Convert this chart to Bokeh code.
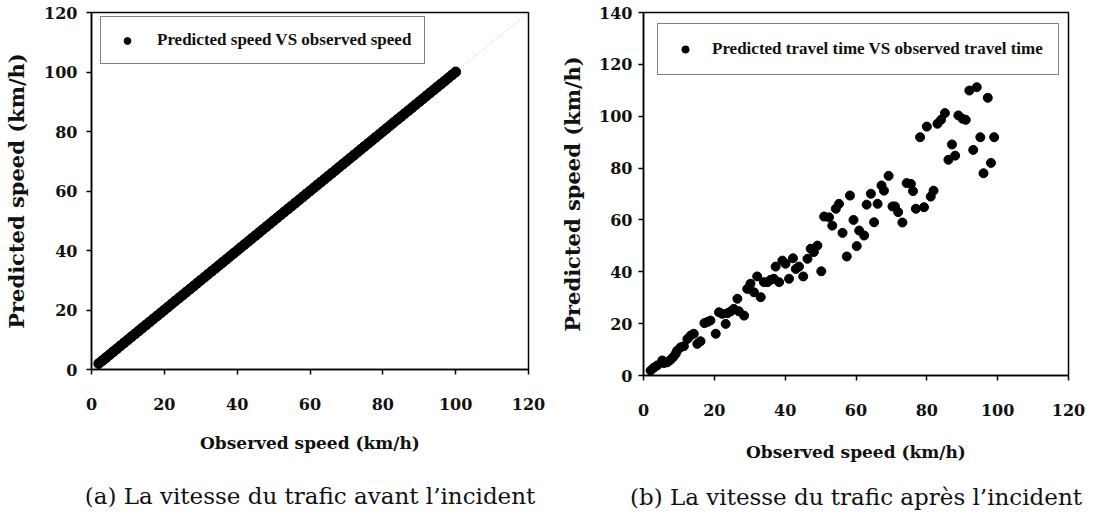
from bokeh.plotting import figure
from bokeh.layouts import row, column
from bokeh.models import (Legend, LegendItem, FixedTicker, Range1d, ColumnDataSource,
                          LinearAxis)
from bokeh.embed import file_html
from bokeh.resources import INLINE

# ---------------- data ----------------
# (a) before the incident: predicted == observed
observed_a = [2, 3, 4, 5, 6, 7, 8, 9, 10, 11, 12, 13, 14, 15, 16, 17, 18, 19, 20, 21,
              22, 23, 24, 25, 26, 27, 28, 29, 30, 31, 32, 33, 34, 35, 36, 37, 38, 39, 40, 41,
              42, 43, 44, 45, 46, 47, 48, 49, 50, 51, 52, 53, 54, 55, 56, 57, 58, 59, 60, 61,
              62, 63, 64, 65, 66, 67, 68, 69, 70, 71, 72, 73, 74, 75, 76, 77, 78, 79, 80, 81,
              82, 83, 84, 85, 86, 87, 88, 89, 90, 91, 92, 93, 94, 95, 96, 97, 98, 99, 100]
predicted_a = [2, 3, 4, 5, 6, 7, 8, 9, 10, 11, 12, 13, 14, 15, 16, 17, 18, 19, 20, 21,
               22, 23, 24, 25, 26, 27, 28, 29, 30, 31, 32, 33, 34, 35, 36, 37, 38, 39, 40, 41,
               42, 43, 44, 45, 46, 47, 48, 49, 50, 51, 52, 53, 54, 55, 56, 57, 58, 59, 60, 61,
               62, 63, 64, 65, 66, 67, 68, 69, 70, 71, 72, 73, 74, 75, 76, 77, 78, 79, 80, 81,
               82, 83, 84, 85, 86, 87, 88, 89, 90, 91, 92, 93, 94, 95, 96, 97, 98, 99, 100]
diag_x = [0, 120]
diag_y = [0, 120]

# (b) after the incident
observed_b = [2.0, 2.9, 3.9, 5.3, 5.8, 6.7, 7.6, 8.4, 9.1, 9.5, 10.5, 11.4, 12.4, 13.3, 14.2,
              15.2, 16.1, 17.2, 18.0, 18.9, 20.4, 21.3, 22.2, 23.2, 23.7, 24.6, 25.5, 26.5,
              26.9, 28.4, 29.3, 30.2, 31.2, 32.1, 33.1, 34.0, 35.0, 35.9, 36.8, 37.3, 38.3,
              39.2, 40.1, 41.1, 42.2, 43.0, 43.9, 45.1, 46.3, 47.2, 48.1, 49.1, 50.2, 51.0,
              52.4, 53.3, 54.3, 55.2, 56.2, 57.4, 58.3, 59.3, 60.2, 60.9, 62.3, 63.0, 64.2,
              65.1, 66.1, 69.2, 67.2, 67.9, 74.3, 75.5, 76.1, 81.9, 81.1, 79.2, 76.9, 73.1,
              71.0, 70.3, 71.9, 78.1, 80.0, 83.0, 84.0, 85.1, 88.9, 90.1, 91.0, 92.0, 94.1,
              97.2, 95.1, 99.0, 87.1, 88.0, 86.1, 93.1, 98.1, 96.0]
predicted_b = [1.9, 3.0, 3.9, 5.8, 4.8, 5.1, 6.0, 7.1, 8.4, 9.6, 10.9, 11.3, 14.1, 15.4, 16.1,
               12.2, 13.2, 20.2, 20.6, 21.2, 16.1, 24.4, 23.8, 19.9, 24.0, 24.7, 25.7, 29.6,
               24.8, 23.1, 33.4, 35.4, 32.1, 38.2, 30.2, 36.0, 36.0, 36.9, 37.3, 42.0, 36.0,
               44.3, 43.1, 37.3, 45.2, 41.1, 42.0, 38.2, 45.0, 48.9, 47.6, 50.1, 40.2, 61.3,
               61.0, 57.8, 64.3, 66.2, 55.0, 45.9, 69.4, 60.0, 49.9, 55.9, 54.0, 65.9, 70.1,
               59.1, 66.2, 77.0, 73.3, 71.3, 74.2, 73.9, 71.1, 71.3, 69.0, 64.9, 64.3, 59.0,
               65.2, 65.2, 63.0, 91.9, 96.0, 97.1, 98.6, 101.2, 100.3, 99.0, 98.6, 109.9, 111.2,
               107.1, 91.9, 91.9, 89.1, 84.8, 83.2, 87.0, 82.0, 78.0]

ticks_x = [0, 20, 40, 60, 80, 100, 120]
ticks_y_a = [0, 20, 40, 60, 80, 100, 120]
ticks_y_b = [0, 20, 40, 60, 80, 100, 120, 140]

label_a = "Predicted speed VS observed speed"
label_b = "Predicted travel time VS observed travel time"
xlabel = "Observed speed (km/h)"
ylabel = "Predicted speed (km/h)"
caption_a = "(a) La vitesse du trafic avant l\u2019incident"
caption_b = "(b) La vitesse du trafic apr\u00e8s l\u2019incident"

TICK_FONT = "DejaVu Serif"


def style(p, xt, yt, xtick_standoff, xls, yls, ytick_standoff):
    p.outline_line_color = "black"
    p.outline_line_width = 1.5
    p.xgrid.visible = False
    p.ygrid.visible = False
    p.background_fill_color = "white"
    p.border_fill_color = "white"
    p.xaxis.ticker = FixedTicker(ticks=xt)
    p.yaxis.ticker = FixedTicker(ticks=yt)
    for ax in (p.xaxis[0], p.yaxis[0]):
        ax.axis_line_color = "black"
        ax.axis_line_width = 1.5
        ax.major_tick_line_color = "black"
        ax.major_tick_line_width = 1.5
        ax.major_tick_in = 0
        ax.major_tick_out = 5
        ax.minor_tick_line_color = None
        ax.major_label_text_font = TICK_FONT
        ax.major_label_text_font_style = "bold"
        ax.major_label_text_font_size = "16px"
        ax.major_label_text_color = "#111111"
        ax.axis_label_text_font = TICK_FONT
        ax.axis_label_text_font_style = "bold"
        ax.axis_label_text_color = "#111111"
    p.xaxis.axis_label = xlabel
    p.yaxis.axis_label = ylabel
    p.xaxis.axis_label_text_font_size = "17px"
    p.yaxis.axis_label_text_font_size = "21px"
    p.xaxis.major_label_standoff = xtick_standoff
    p.yaxis.major_label_standoff = ytick_standoff
    p.xaxis.axis_label_standoff = xls
    p.yaxis.axis_label_standoff = yls


def add_legend(p, r, label, loc, pad, gw, gh, standoff, size):
    leg = Legend(items=[LegendItem(label=label, renderers=[r])], location=loc,
                 padding=pad, spacing=0, margin=0, glyph_width=gw, glyph_height=gh,
                 label_standoff=standoff, label_height=gh,
                 label_text_font="Liberation Serif", label_text_font_style="bold",
                 label_text_font_size=size, label_text_color="#111111",
                 border_line_color="black", border_line_width=1.5,
                 background_fill_color="white", background_fill_alpha=1.0)
    p.add_layout(leg, "center")


def add_caption(p, text, standoff):
    cap = LinearAxis(ticker=FixedTicker(ticks=[]), axis_label=text,
                     axis_line_color=None, major_tick_line_color=None,
                     minor_tick_line_color=None, major_tick_in=0, major_tick_out=0,
                     minor_tick_in=0, minor_tick_out=0, major_label_standoff=0,
                     major_label_text_font_size="1px",
                     axis_label_standoff=standoff, axis_label_text_font="DejaVu Serif",
                     axis_label_text_font_size="23px", axis_label_text_font_style="normal",
                     axis_label_text_color="#111111")
    p.add_layout(cap, "below")


# ---------------- figure (a) ----------------
pa = figure(width=555, height=517, output_backend="svg", toolbar_location=None,
            x_range=Range1d(0, 120), y_range=Range1d(0, 120),
            min_border_left=91, min_border_right=27, min_border_top=12, min_border_bottom=148)
style(pa, ticks_x, ticks_y_a, 23, 20, 12, 9)
pa.line(diag_x, diag_y, line_color="#bbbbbb", line_width=1, line_dash="1 2")
ra = pa.scatter(observed_a, predicted_a, size=10, fill_color="black", line_color="black")
add_legend(pa, ra, label_a, (9, 305), 13, 26, 17, 17, "17px")
add_caption(pa, caption_a, 27)

# ---------------- figure (b) ----------------
pb = figure(width=537, height=517, output_backend="svg", toolbar_location=None,
            x_range=Range1d(0, 120), y_range=Range1d(0, 140),
            min_border_left=88, min_border_right=24, min_border_top=12, min_border_bottom=142)
style(pb, ticks_x, ticks_y_b, 23, 23, 11, 6)
src_b = ColumnDataSource(data=dict(x=observed_b, y=predicted_b))
rb = pb.scatter("x", "y", source=src_b, size=9, fill_color="black", line_color="black")
add_legend(pb, rb, label_b, (14, 300), 15, 24, 18, 15, "17px")
add_caption(pb, caption_b, 19)

layout = row(column(pa), column(pb))
open("out.html", "w").write(file_html(layout, INLINE))
